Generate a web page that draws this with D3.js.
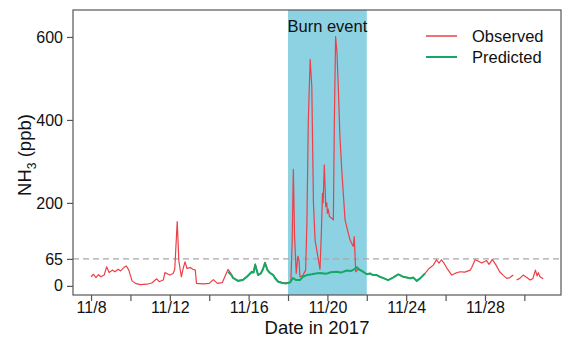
<!DOCTYPE html>
<html><head><meta charset="utf-8">
<script src="https://cdn.jsdelivr.net/npm/d3@7"></script>
<style>body{margin:0;background:#fff;}svg{display:block;font-family:"Liberation Sans",Arial,sans-serif;}</style>
</head><body><svg id="c" width="577" height="342"></svg>
<script>
// ---- data ----
const obsTimes = ["11-08 00:00","11-08 03:00","11-08 06:00","11-08 09:00","11-08 12:00","11-08 16:00","11-08 19:00","11-08 22:00",
"11-09 02:00","11-09 05:00","11-09 09:00","11-09 12:00","11-09 16:00","11-09 19:00","11-09 22:00",
"11-10 02:00","11-10 06:00","11-10 12:00","11-10 20:00","11-11 02:00","11-11 08:00","11-11 11:00","11-11 16:00","11-11 18:00","11-11 22:00",
"11-12 00:00","11-12 04:00","11-12 06:00","11-12 09:00","11-12 11:00","11-12 14:00","11-12 16:00","11-12 18:30","11-12 21:00",
"11-13 01:00","11-13 04:00","11-13 07:00","11-13 08:30","11-13 16:30","11-14 00:00","11-14 05:00","11-14 10:00","11-14 16:00","11-14 19:00","11-14 23:00",
"11-15 03:00","11-15 05:00","11-15 11:00","11-15 17:00","11-15 22:00","11-16 04:00","11-16 06:00","11-16 08:00","11-16 11:30","11-16 15:00","11-16 17:30","11-16 20:00","11-16 23:00",
"11-17 02:00","11-17 06:00","11-17 08:00","11-17 12:00","11-17 17:00","11-17 22:00",
"11-18 00:30","11-18 03:30","11-18 05:00","11-18 06:30","11-18 08:00","11-18 10:00","11-18 12:00","11-18 13:30","11-18 14:30","11-18 18:00","11-18 21:30","11-18 23:00",
"11-19 00:45","11-19 03:00","11-19 05:00","11-19 07:00","11-19 09:00","11-19 11:00","11-19 15:00","11-19 16:30","11-19 18:00","11-19 18:45","11-19 20:15","11-19 22:00","11-19 23:15",
"11-20 00:00","11-20 01:00","11-20 02:30","11-20 05:15","11-20 07:15","11-20 08:30","11-20 10:00","11-20 11:45","11-20 13:15","11-20 15:15","11-20 17:30","11-20 21:30",
"11-21 03:30","11-21 07:30","11-21 08:45","11-21 10:30","11-21 13:15","11-21 15:40","11-21 19:30",
"11-22 00:00","11-22 04:00","11-22 07:30","11-22 12:00","11-22 16:00","11-22 21:00","11-23 02:00","11-23 08:00","11-23 14:30","11-23 20:00",
"11-24 01:00","11-24 04:30","11-24 08:30","11-24 13:00","11-24 17:00","11-24 23:00",
"11-25 04:00","11-25 09:00","11-25 13:00","11-25 16:00","11-25 19:00","11-25 22:00","11-26 01:30","11-26 07:30","11-26 11:30","11-26 17:30","11-26 23:30",
"11-27 06:00","11-27 08:00","11-27 12:00","11-27 15:30","11-27 20:00","11-28 02:00","11-28 05:00","11-28 09:00","11-28 13:30","11-28 18:00","11-28 22:00",
"11-29 02:30","11-29 06:30","11-29 10:30","11-29 12:30","11-29 14:30","11-29 18:30","11-29 22:30","11-30 03:00","11-30 07:00","11-30 10:30","11-30 13:30","11-30 15:30","11-30 17:00","11-30 19:00","11-30 23:00"];
const obsValues = [22,28,20,27,22,26,46,32,
38,34,40,36,44,48,38,
12,6,3,4,7,17,10,14,32,28,
26,30,40,155,60,22,40,58,42,
44,40,38,6,5,6,15,6,8,22,40,
28,20,13,15,23,35,33,53,27,31,42,57,39,
32,27,20,11,8,7,
7,10,100,281,120,30,72,60,22,25,38,150,
400,546,480,200,110,87,40,119,223,200,292,191,200,
175,185,167,163,159,400,601,560,480,360,280,159,
111,95,119,34,40,38,34,
28,30,26,26,22,18,14,20,28,22,
20,18,20,12,18,30,
42,50,63,55,63,55,43,26,30,34,33,
38,45,63,60,55,61,52,64,50,34,26,
18,20,26,null,14,18,26,20,14,18,38,24,32,22,17];

const predTimes = ["11-14 23:00","11-15 03:00","11-15 05:00","11-15 11:00","11-15 17:00","11-15 22:00","11-16 04:00","11-16 06:00","11-16 08:00","11-16 11:30","11-16 15:00","11-16 17:30","11-16 20:00","11-16 23:00",
"11-17 02:00","11-17 06:00","11-17 08:00","11-17 12:00","11-17 17:00","11-17 22:00","11-18 02:30","11-18 06:00","11-18 10:00","11-18 14:30","11-18 18:00","11-18 23:00",
"11-19 05:00","11-19 10:00","11-19 15:00","11-19 22:00","11-20 04:00","11-20 11:00","11-20 16:30","11-20 23:30","11-21 05:00","11-21 08:30","11-21 12:00","11-21 14:30","11-21 18:00",
"11-22 00:00","11-22 04:00","11-22 07:30","11-22 12:00","11-22 16:00","11-22 21:00","11-23 02:00","11-23 08:00","11-23 14:30","11-23 20:00",
"11-24 01:00","11-24 04:30","11-24 08:30","11-24 13:00","11-24 17:00","11-24 23:00"];
const predValues = [34,26,19,12,14,22,34,32,51,26,30,40,55,38,
31,26,19,10,7,6,8,19,14,14,22,26,
28,30,31,29,33,34,32,37,36,40,45,40,36,
28,30,26,26,22,18,14,20,28,22,
20,18,20,12,18,30];

const yTicks = [0,65,200,400,600];
const xTickDates = ["11-08","11-10","11-12","11-14","11-16","11-18","11-20","11-22","11-24","11-26","11-28","11-30"];
const threshold = 65;
const burnStart = "11-18 00:00", burnEnd = "11-22 00:00";
const seriesNames = ["Observed","Predicted"];

// ---- setup ----
const parse = s => d3.utcParse("%Y-%m-%d %H:%M")("2017-" + s);
const obs = obsTimes.map((t,i)=>({t:parse(t), v:obsValues[i]}));
const pred = predTimes.map((t,i)=>({t:parse(t), v:predValues[i]}));

const L=73, R=561, T=10, B=295;
const x = d3.scaleUtc().domain([parse("11-07 02:00"), parse("12-01 20:40")]).range([L,R]);
const y = d3.scaleLinear().domain([-22,665]).range([B,T]);
const svg = d3.select("#c");
const red = "#ec3f48", green = "#16a765";

svg.append("rect").attr("x",x(parse(burnStart))).attr("y",T)
  .attr("width",x(parse(burnEnd))-x(parse(burnStart))).attr("height",B-T).attr("fill","#8dd2e2");

svg.append("line").attr("x1",L).attr("x2",R).attr("y1",y(threshold)).attr("y2",y(threshold))
  .attr("stroke","#a8a8a8").attr("stroke-width",1.3).attr("stroke-dasharray","6,4");

const line = d3.line().defined(d=>d.v!=null).x(d=>x(d.t)).y(d=>y(d.v));
svg.append("path").datum(obs).attr("d",line).attr("fill","none").attr("stroke",red).attr("stroke-width",1.2).attr("stroke-linejoin","round");
svg.append("path").datum(pred).attr("d",line).attr("fill","none").attr("stroke",green).attr("stroke-width",2).attr("stroke-linejoin","round");

svg.append("rect").attr("x",L).attr("y",T).attr("width",R-L).attr("height",B-T)
  .attr("fill","none").attr("stroke","#555").attr("stroke-width",1.2);

const xTickVals = xTickDates.map(s=>parse(s+" 00:00"));
const fmt = d3.utcFormat("%-m/%-d");
const xa = svg.append("g").attr("transform",`translate(0,${B})`)
  .call(d3.axisBottom(x).tickValues(xTickVals).tickSize(6).tickPadding(1)
    .tickFormat((d,i)=> i%2===0 ? fmt(d) : ""));
const ya = svg.append("g").attr("transform",`translate(${L},0)`)
  .call(d3.axisLeft(y).tickValues(yTicks).tickSize(6).tickPadding(4));
[xa,ya].forEach(g=>{
  g.select(".domain").remove();
  g.selectAll(".tick line").attr("stroke","#555").attr("stroke-width",1.2);
  g.selectAll("text").attr("font-size",16).attr("fill","#111").attr("font-family","Liberation Sans, Arial, sans-serif");
});

svg.append("text").attr("x",317).attr("y",334).attr("text-anchor","middle")
  .attr("font-size",18.5).attr("fill","#111").text("Date in 2017");
const yl = svg.append("text").attr("transform","translate(31,155) rotate(-90)").attr("text-anchor","middle")
  .attr("font-size",18.5).attr("fill","#111");
yl.append("tspan").text("NH");
yl.append("tspan").attr("font-size",12).attr("dy",5).text("3");
yl.append("tspan").attr("dy",-5).text(" (ppb)");

svg.append("text").attr("x",(x(parse(burnStart))+x(parse(burnEnd)))/2).attr("y",32).attr("text-anchor","middle")
  .attr("font-size",16.5).attr("fill","#111").text("Burn event");

const leg = svg.append("g");
[red,green].forEach((c,i)=>{
  const yy = 36 + i*21;
  leg.append("line").attr("x1",426).attr("x2",457).attr("y1",yy).attr("y2",yy).attr("stroke",c).attr("stroke-width",i?2:1.5);
  leg.append("text").attr("x",472).attr("y",yy).attr("dy","0.36em").attr("font-size",16.5).attr("fill","#111").text(seriesNames[i]);
});
</script></body></html>
